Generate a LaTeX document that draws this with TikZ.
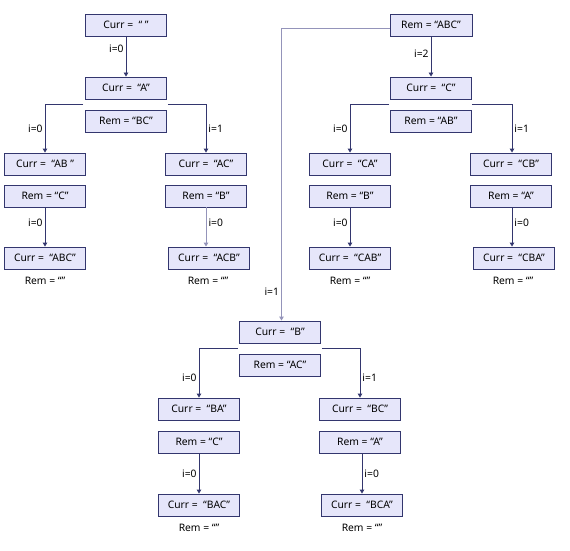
\documentclass[tikz,border=0pt]{standalone}
\usepackage{fontspec}
\setmainfont{Noto Sans}
\usetikzlibrary{arrows.meta,calc}
\definecolor{boxfill}{HTML}{E6E6FA}
\definecolor{navy}{HTML}{33366E}
\definecolor{pale}{HTML}{9494BA}
\begin{document}
\begin{tikzpicture}[x=1pt,y=-1pt,
  font=\fontsize{10.3}{12}\selectfont,
  box/.style={draw=navy,fill=boxfill,line width=0.9pt,minimum width=81pt,minimum height=22pt,inner sep=0pt},
  txt/.style={inner sep=1pt},
  arr/.style={draw=navy,line width=0.9pt,-{Triangle[width=4.5pt,length=4pt]}},
  parr/.style={arr,draw=pale,line width=1pt},
  lbl/.style={inner sep=2pt,text=black}]
\useasboundingbox (0,0) rectangle (570,551);

% left subtree: starts from Curr = " "
\node[box] (c0) at (126,25) {Curr = \ “ ”};
\node[box] (cA) at (126,88) {Curr = \ “A”};
\node[box] (rA) at (126,121) {Rem = “BC”};
\node[box] (cAB) at (45,164) {Curr = \ “AB ”};
\node[box] (rC1) at (45,196) {Rem = “C”};
\node[box] (cABC) at (45,258) {Curr = \ “ABC”};
\node[txt] (eABC) at (45,281) {Rem = “”};
\node[box] (cAC) at (206,164) {Curr = \ “AC”};
\node[box] (rB1) at (206,196) {Rem = “B”};
\node[box] (cACB) at (209,258) {Curr = \ “ACB”};
\node[txt] (eACB) at (208,281) {Rem = “”};

% right subtree: starts from Rem = "ABC"
\node[box,minimum width=82pt] (rABC) at (431,25) {Rem = “ABC”};
\node[box] (cC) at (431,88) {Curr = \ “C”};
\node[box] (rAB) at (431,121) {Rem = “AB”};
\node[box] (cCA) at (350,164) {Curr = \ “CA”};
\node[box] (rB2) at (350,196) {Rem = “B”};
\node[box] (cCAB) at (350,258) {Curr = \ “CAB”};
\node[txt] (eCAB) at (350,281) {Rem = “”};
\node[box] (cCB) at (511,164) {Curr = \ “CB”};
\node[box] (rA2) at (511,196) {Rem = “A”};
\node[box] (cCBA) at (514,258) {Curr = \ “CBA”};
\node[txt] (eCBA) at (513,281) {Rem = “”};

% bottom subtree: Curr = "B"
\node[box] (cB) at (280,332) {Curr = \ “B”};
\node[box] (rAC) at (280,365) {Rem = “AC”};
\node[box] (cBA) at (199,409) {Curr = \ “BA”};
\node[box] (rC2) at (199,442) {Rem = “C”};
\node[box] (cBAC) at (199,505) {Curr = \ “BAC”};
\node[txt] (eBAC) at (199,528) {Rem = “”};
\node[box] (cBC) at (360,409) {Curr = \ “BC”};
\node[box] (rA3) at (360,442) {Rem = “A”};
\node[box] (cBCA) at (362,505) {Curr = \ “BCA”};
\node[txt] (eBCA) at (362,528) {Rem = “”};

% straight steps
\draw[arr] (c0.south) -- node[lbl,left,pos=0.3] {i=0} (cA.north);
\draw[arr] (rABC.south) -- node[lbl,left,pos=0.42] {i=2} (cC.north);
\draw[arr] (rC1.south) -- node[lbl,left,pos=0.38] {i=0} (cABC.north);
\draw[parr] (rB1.south) -- node[lbl,right,pos=0.38] {i=0} (rB1.south |- cACB.north);
\draw[arr] (rB2.south) -- node[lbl,left,pos=0.38] {i=0} (cCAB.north);
\draw[arr] ([xshift=1pt]rA2.south) -- node[lbl,right,pos=0.38] {i=0} ([xshift=1pt]rA2.south |- cCBA.north);
\draw[arr] (rC2.south) -- node[lbl,left,pos=0.5] {i=0} (cBAC.north);
\draw[arr] ([xshift=2pt]rA3.south) -- node[lbl,right,pos=0.5] {i=0} ([xshift=2pt]rA3.south |- cBCA.north);

% branches leaving the gap between a Curr box and its Rem box
\draw[arr] ($(cA.south west)!.5!(rA.north west)+(-2,0)$) -| node[lbl,left,pos=0.75] {i=0} (cAB.north);
\draw[arr] ($(cA.south east)!.5!(rA.north east)+(1,0)$) -| node[lbl,right,pos=0.75] {i=1} (cAC.north);
\draw[arr] ($(cC.south west)!.5!(rAB.north west)+(-1,0)$) -| node[lbl,left,pos=0.75] {i=0} (cCA.north);
\draw[arr] ($(cC.south east)!.5!(rAB.north east)$) -| node[lbl,right,pos=0.75] {i=1} ([xshift=1pt]cCB.north);
\draw[arr] ($(cB.south west)!.5!(rAC.north west)+(-1,0)$) -| node[lbl,left,pos=0.8] {i=0} (cBA.north);
\draw[arr] ($(cB.south east)!.5!(rAC.north east)+(1,0)$) -| node[lbl,right,pos=0.8] {i=1} (cBC.north);

% long link from Rem = "ABC" down to Curr = "B"
\draw[parr] ([yshift=-4pt]rABC.west) -| node[lbl,left,pos=0.95] {i=1} ([xshift=1.5pt]cB.north);
\end{tikzpicture}
\end{document}
